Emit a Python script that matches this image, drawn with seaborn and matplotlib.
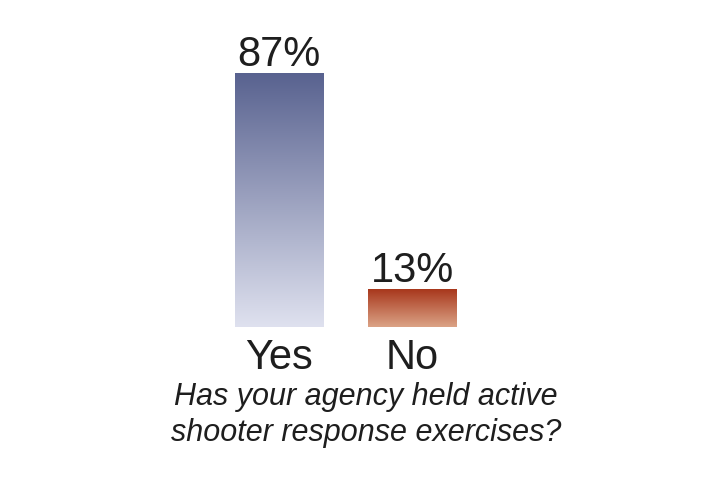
import numpy as np
import pandas as pd
import matplotlib
matplotlib.use("Agg")
import matplotlib.pyplot as plt
import seaborn as sns
from matplotlib.colors import LinearSegmentedColormap

categories = ["Yes", "No"]
values = [87, 13]
value_labels = ["87%", "13%"]
question = "Has your agency held active\nshooter response exercises?"

top_colors = ["#58628f", "#a8371c"]
bottom_colors = ["#dfe1ef", "#dba386"]

sns.set_theme(style="white")
plt.rcParams["font.family"] = ["Liberation Sans", "DejaVu Sans"]

df = pd.DataFrame({"answer": categories, "pct": values})

fig = plt.figure(figsize=(7.2, 5.0), dpi=100)
ax = fig.add_axes([212 / 720, (500 - 327) / 500, 267 / 720, 292 / 500])
sns.barplot(data=df, x="answer", y="pct", ax=ax, width=0.66, color="white",
            saturation=1)
ax.set_xlim(-0.5, 1.5)
ax.set_ylim(0, 100)

grad = np.linspace(0, 1, 256).reshape(-1, 1)
for patch, ctop, cbot, lab in zip(ax.patches, top_colors, bottom_colors, value_labels):
    x0, y0 = patch.get_x(), patch.get_y()
    w, h = patch.get_width(), patch.get_height()
    cmap = LinearSegmentedColormap.from_list("g", [cbot, ctop])
    im = ax.imshow(grad, cmap=cmap, aspect="auto", origin="lower",
                   extent=[x0, x0 + w, y0, y0 + h], zorder=2)
    im.set_clip_path(patch)
    patch.set_facecolor("none")
    patch.set_edgecolor("none")
    ax.annotate(lab, (x0 + w / 2, y0 + h), xytext=(0, -1.5), textcoords="offset points",
                ha="center", va="bottom", fontsize=30, color="#1e1e1e")

ax.set_xlim(-0.5, 1.5)
ax.set_ylim(0, 100)
for s in ax.spines.values():
    s.set_visible(False)
ax.set_yticks([])
ax.set_ylabel("")
ax.tick_params(axis="x", length=0, pad=8, labelsize=30, labelcolor="#1e1e1e")
ax.set_xlabel(question, fontsize=22, style="italic", color="#1e1e1e",
              linespacing=1.25)
ax.xaxis.set_label_coords(0.577, -0.19)

fig.savefig("out.png", dpi=100, facecolor="white")
